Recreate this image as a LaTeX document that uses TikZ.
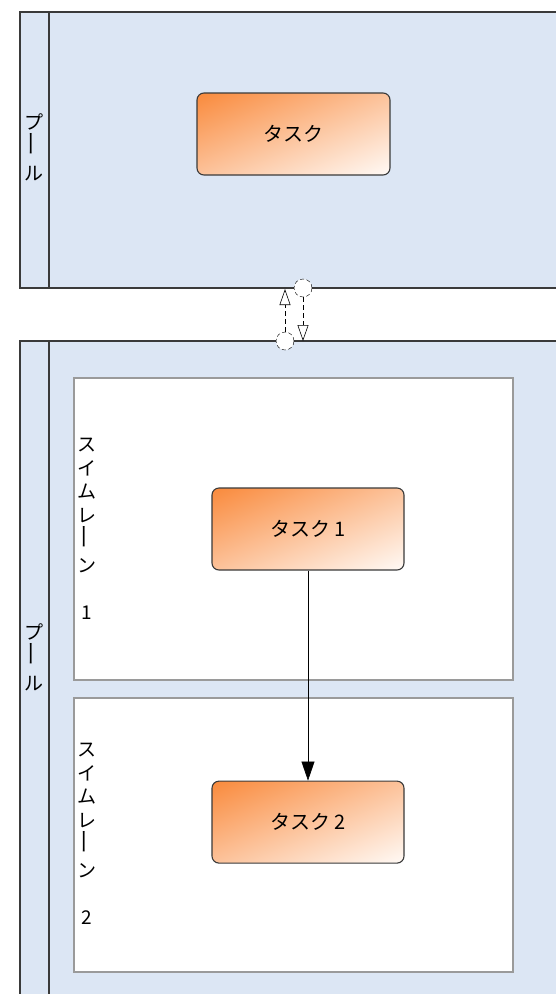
\documentclass[tikz,border=0pt]{standalone}
\usepackage{fontspec}
\usepackage{graphicx}
\setmainfont{Noto Sans CJK JP}
\usetikzlibrary{arrows.meta,positioning,shadings}

\definecolor{poolbg}{HTML}{DCE6F4}
\definecolor{poolline}{HTML}{3A3A3A}
\definecolor{laneline}{HTML}{9A9A9A}
\definecolor{taskdark}{HTML}{F98A3C}
\definecolor{taskmid}{HTML}{FCC29A}
\definecolor{tasklight}{HTML}{FFFAF6}

\newcommand{\vbar}{\rotatebox{90}{\scalebox{1.35}[1]{ー}}}

\begin{document}
\begin{tikzpicture}[x=1pt,y=-1pt,>={Triangle[width=13pt,length=19pt]},
        poolline/.style={draw=poolline,line width=1.4pt},
        lane/.style={fill=white,draw=laneline,line width=1.6pt},
        vlabel/.style={align=center,font=\fontsize{19}{23.5}\selectfont,inner sep=0pt},
        task/.style={rectangle,rounded corners=7pt,draw=poolline,line width=1.1pt,
          minimum width=192pt,minimum height=82pt,
          upper left=taskdark,lower right=tasklight,upper right=taskmid,lower left=taskmid,
          font=\fontsize{20}{22}\selectfont},
        msgstart/.style={circle,draw=black,fill=white,dash pattern=on 4pt off 2.5pt,
          minimum size=18pt,inner sep=0pt},
        msg/.style={draw=black,dash pattern=on 5pt off 3pt,semithick,
          -{Triangle[open,width=11pt,length=16pt]}}]
      \clip (0,0) rectangle (556,994);
      \fill[white] (0,0) rectangle (556,994);
      % pools
      \fill[poolbg] (20,12) rectangle (600,288);
      \draw[poolline] (600,12) -- (20,12) -- (20,288) -- (600,288);
      \draw[poolline] (49,12) -- (49,288);
      \fill[poolbg] (20,341) rectangle (600,1010);
      \draw[poolline] (600,341) -- (20,341) -- (20,1010);
      \draw[poolline] (49,341) -- (49,1010);
      \node[vlabel] (poolAlabel) at (34,147) {プ\\\vbar\\ル};
      \node[vlabel] (poolBlabel) at (34,657) {プ\\\vbar\\ル};
      % lanes
      \draw[lane] (74,378) rectangle (513,680);
      \draw[lane] (74,698) rectangle (513,972);
      \node[vlabel] (lane1label) at (87,529) {ス\\イ\\ム\\レ\\\vbar\\ン\\\mbox{}\\1};
      \node[vlabel] (lane2label) at (87,834) {ス\\イ\\ム\\レ\\\vbar\\ン\\\mbox{}\\2};
      % tasks
      \node[task,minimum width=193pt] (task0) at (293.5,134) {タスク};
      \node[task] (task1) at (308,529) {タスク 1};
      \node[task] (task2) [below=210pt of task1] {タスク 2};
      \path[->,semithick] (task1) edge (task2);
      % message flows
      \node[msgstart] (mA) at (285,341) {};
      \coordinate (tA) at (285,289);
      \node[msgstart] (mB) at (303,288) {};
      \coordinate (tB) at (303,341);
      \path[msg] (mA) edge (tA)
      (mB) edge (tB);
    \end{tikzpicture}
\end{document}
